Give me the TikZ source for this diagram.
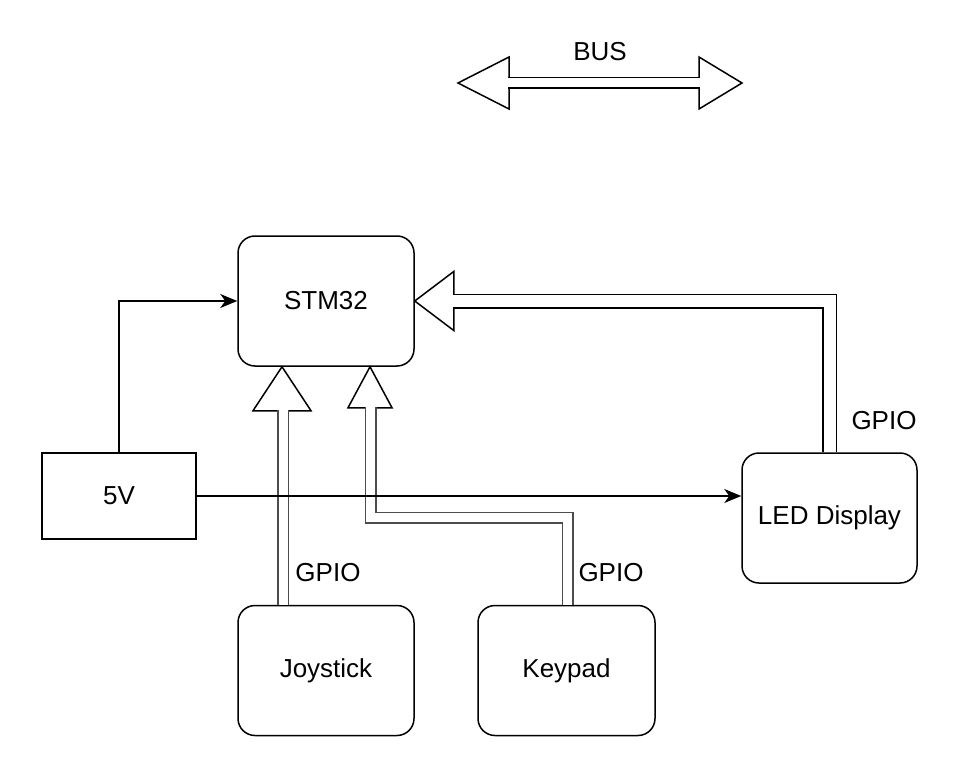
\documentclass[tikz,border=0pt]{standalone}
\usepackage{fontspec}
\setmainfont{Liberation Sans}
\usetikzlibrary{arrows.meta}

\begin{document}
\begin{tikzpicture}[x=1pt, y=-1pt, line width=1.5pt,
  box/.style={draw, rounded corners=17pt, minimum width=176pt, minimum height=130pt, font=\fontsize{26pt}{30pt}\selectfont},
  lbl/.style={font=\fontsize{26pt}{30pt}\selectfont},
  pipe/.style={draw=#1, double=white, double distance=9pt},
  pipe/.default=black,
  head/.style={draw, fill=white, line join=miter},
  wire/.style={draw, -{Stealth[length=17pt, width=14pt, inset=5pt]}}]
\useasboundingbox (0,0) rectangle (958,762);
\node[box] (stm) at (326,301) {STM32};
\node[box, rounded corners=0pt, minimum width=154pt, minimum height=86pt] (pwr) at (119,496) {5V};
\node[box, minimum width=175pt] (led) at (829.5,518) {LED Display};
\node[box] (joy) at (326,670.5) {Joystick};
\node[box, minimum width=177pt] (key) at (566.5,670.5) {Keypad};
% bus
\coordinate (busL) at (458,83);
\coordinate (busR) at (742,83);
\draw[head] (busL) -- ++(51,-26) -- ++(0,52) -- cycle;
\draw[head] (busR) -- ++(-43,-26) -- ++(0,52) -- cycle;
\draw[pipe] ([xshift=50.25pt]busL) -- ([xshift=-42.25pt]busR);
\node[lbl] (bus) at (600,52) {BUS};
% joystick -> stm32
\draw[head] ([xshift=-44pt]stm.south) -- ++(-29,44) -- ++(58,0) -- cycle;
\draw[pipe=black!70] ([xshift=-43pt]joy.north) -- ([xshift=-43pt, yshift=-43.25pt]stm.south);
\node[lbl] (gpj) at (328,573) {GPIO};
% keypad -> stm32
\draw[head] ([xshift=44pt]stm.south) -- ++(-22,41) -- ++(44,0) -- cycle;
\draw[pipe=black!70] ([xshift=1pt]key.north) -- ++(0,-87) -| ([xshift=44.5pt, yshift=-40.25pt]stm.south);
\node[lbl] (gpk) at (611,573) {GPIO};
% led -> stm32
\draw[head] (stm.east) -- ++(39,-29.5) -- ++(0,59) -- cycle;
\draw[pipe, double distance=12pt] (led.north) |- ([xshift=38.25pt]stm.east);
\node[lbl] (gpl) at (884,421) {GPIO};
% power
\draw[wire] (pwr.north) |- (stm.west);
\draw[wire] (pwr.east) -- (pwr.east -| led.west);
\end{tikzpicture}
\end{document}
